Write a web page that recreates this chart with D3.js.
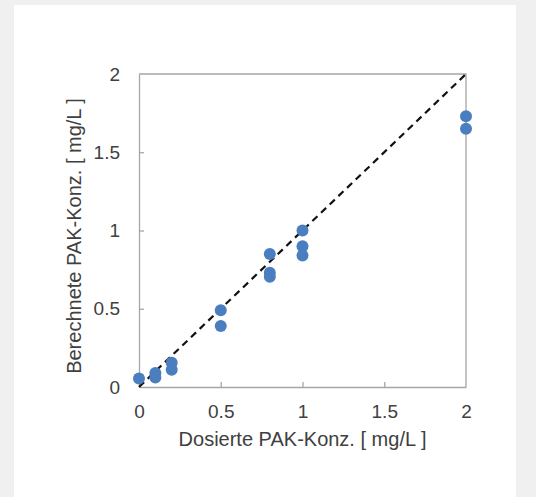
<!DOCTYPE html>
<html>
<head>
<meta charset="utf-8">
<script src="https://cdn.jsdelivr.net/npm/d3@7"></script>
<style>
  body { margin: 0; background: #f0f0f0; }
  text { font-family: "Liberation Sans", Arial, sans-serif; fill: #404040; }
</style>
</head>
<body>
<div id="chart"></div>
<script>
// measured vs dosed concentrations
let dosed = [0, 0.1, 0.1, 0.2, 0.2, 0.5, 0.5, 0.8, 0.8, 0.8, 1, 1, 1, 2, 2];
let calculated = [0.055, 0.09, 0.06, 0.155, 0.11, 0.49, 0.39, 0.85, 0.73, 0.705, 1.0, 0.9, 0.84, 1.73, 1.65];
let xTicks = [0, 0.5, 1, 1.5, 2];
let yTicks = [0, 0.5, 1, 1.5, 2];

let margin = { top: 74, left: 139, right: 70, bottom: 110 },
  W = 536, H = 497,
  width = W - margin.left - margin.right,
  height = H - margin.top - margin.bottom;

let svg = d3.select('#chart').append('svg')
  .attr('width', W).attr('height', H);

// white panel
svg.append('rect')
  .attr('x', 14).attr('y', 5)
  .attr('width', 502).attr('height', 492)
  .attr('fill', 'white');

let g = svg.append('g')
  .attr('transform', 'translate(' + margin.left + ',' + margin.top + ')');

let x = d3.scaleLinear().domain([0, 2]).range([0, width]);
let y = d3.scaleLinear().domain([0, 2]).range([height, 0]);

// axes with inner ticks
let xAxis = g.append('g')
  .attr('transform', 'translate(0,' + height + ')')
  .call(d3.axisBottom(x).tickValues(xTicks).tickFormat(d3.format('')).tickSizeInner(-5).tickSizeOuter(0).tickPadding(18));
let yAxis = g.append('g')
  .call(d3.axisLeft(y).tickValues(yTicks).tickFormat(d3.format('')).tickSizeInner(-5).tickSizeOuter(0).tickPadding(19));

[xAxis, yAxis].forEach(function(a) {
  a.selectAll('path, line').attr('stroke', '#a6a6a6').attr('stroke-width', 1.3);
  a.selectAll('text').style('font-size', '19px').attr('fill', '#404040');
});
xAxis.selectAll('.tick').filter(d => d === 0 || d === 2).select('line').remove();
yAxis.selectAll('.tick').filter(d => d === 0 || d === 2).select('line').remove();

// frame (top and right)
g.append('path')
  .attr('d', 'M0,0H' + width + 'V' + height)
  .attr('fill', 'none')
  .attr('stroke', '#a6a6a6')
  .attr('stroke-width', 1.3);

// 1:1 line
g.append('line')
  .attr('x1', x(0)).attr('y1', y(0))
  .attr('x2', x(2)).attr('y2', y(2))
  .attr('stroke', '#111')
  .attr('stroke-width', 2.2)
  .attr('stroke-dasharray', '7,5');

// points
g.selectAll('.pt')
  .data(dosed.map((d, i) => [d, calculated[i]]))
  .enter().append('circle')
  .attr('class', 'pt')
  .attr('cx', d => x(d[0]))
  .attr('cy', d => y(d[1]))
  .attr('r', 6)
  .attr('fill', '#4a7ebf');

// axis titles
svg.append('text')
  .attr('x', margin.left + width / 2)
  .attr('y', 446)
  .attr('text-anchor', 'middle')
  .style('font-size', '20px')
  .text('Dosierte PAK-Konz. [ mg/L ]');

svg.append('text')
  .attr('transform', 'translate(81,236) rotate(-90)')
  .attr('text-anchor', 'middle')
  .style('font-size', '20px')
  .text('Berechnete PAK-Konz. [ mg/L ]');
</script>
</body>
</html>
